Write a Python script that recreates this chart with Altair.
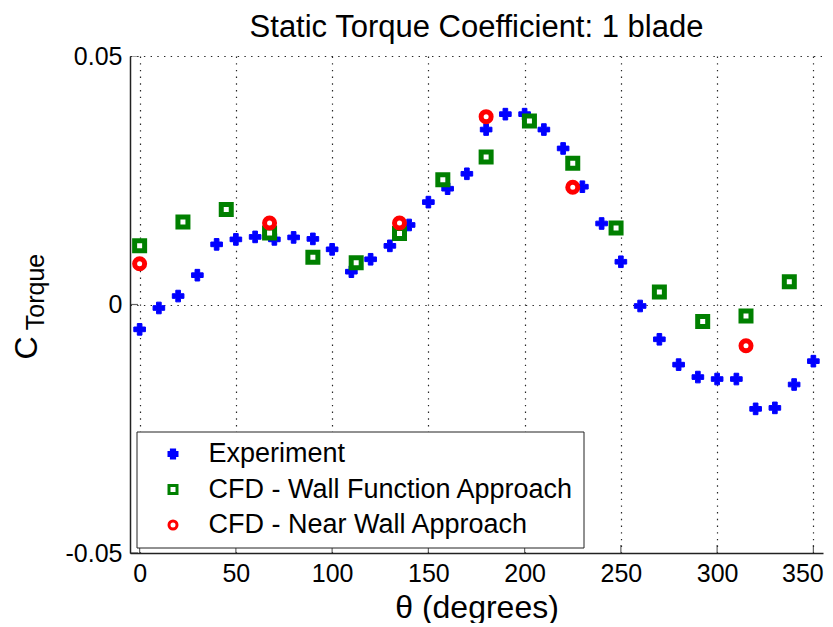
import altair as alt
import pandas as pd

# ---------------- data ----------------
series_names = ["Experiment", "CFD - Wall Function Approach", "CFD - Near Wall Approach"]

exp_theta = [0, 10, 20, 30, 40, 50, 60, 70, 80, 90,
             100, 110, 120, 130, 140, 150, 160, 170, 180, 190,
             200, 210, 220, 230, 240, 250, 260, 270, 280, 290,
             300, 310, 320, 330, 340, 350]
exp_ct = [-0.0050, -0.0007, 0.0017, 0.0059, 0.0121, 0.0131, 0.0136, 0.0131, 0.0135, 0.0132,
          0.0111, 0.0066, 0.0091, 0.0118, 0.0160, 0.0206, 0.0233, 0.0263, 0.0352, 0.0383,
          0.0383, 0.0352, 0.0314, 0.0237, 0.0163, 0.0086, -0.0003, -0.0070, -0.0121, -0.0146,
          -0.0150, -0.0150, -0.0210, -0.0208, -0.0161, -0.0114]

wf_theta = [0, 22.5, 45, 67.5, 90, 112.5, 135, 157.5, 180, 202.5, 225, 247.5, 270, 292.5, 315, 337.5]
wf_ct = [0.0118, 0.0166, 0.0191, 0.0144, 0.0095, 0.0084, 0.0143, 0.0251, 0.0297, 0.0369,
         0.0284, 0.0154, 0.0025, -0.0034, -0.0023, 0.0046]

nw_theta = [0, 67.5, 135, 180, 225, 315]
nw_ct = [0.0082, 0.0164, 0.0164, 0.0378, 0.0236, -0.0083]

x_ticks = [0, 50, 100, 150, 200, 250, 300, 350]
y_ticks = [-0.05, 0, 0.05]

# ---------------- tables ----------------
df = pd.concat([
    pd.DataFrame({"theta": exp_theta, "ct": exp_ct, "series": series_names[0]}),
    pd.DataFrame({"theta": wf_theta, "ct": wf_ct, "series": series_names[1]}),
    pd.DataFrame({"theta": nw_theta, "ct": nw_ct, "series": series_names[2]}),
], ignore_index=True)

xt_df = pd.DataFrame({"theta": x_ticks})
yt_df = pd.DataFrame({"ct": y_ticks})
one = pd.DataFrame({"a": [0]})

FONT = "Liberation Sans"

xscale = alt.Scale(domain=[-5, 355], nice=False, zero=False)
yscale = alt.Scale(domain=[-0.05, 0.05], nice=False, zero=False)

X = alt.X("theta:Q", scale=xscale,
          axis=alt.Axis(values=x_ticks, title="θ (degrees)", format="d", titlePadding=6,
                        labelOffset=alt.condition("datum.value == 350", alt.value(-11), alt.value(0))))
Y = alt.Y("ct:Q", scale=yscale,
          axis=alt.Axis(values=y_ticks, title=None, labelExpr="'' + datum.value"))

shape = alt.Shape("series:N", scale=alt.Scale(domain=series_names, range=["cross", "square", "circle"]),
                  legend=alt.Legend(title=None))
stroke = alt.Stroke("series:N", scale=alt.Scale(domain=series_names, range=["#0000ff", "#008000", "#ff0000"]),
                    legend=alt.Legend(title=None))
fill = alt.Fill("series:N", scale=alt.Scale(domain=series_names, range=["#0000ff", "#ffffff", "#ffffff"]),
                legend=alt.Legend(title=None))

base = alt.Chart(df).encode(x=X, y=Y, shape=shape, stroke=stroke, fill=fill)

exp_layer = base.transform_filter(alt.datum.series == series_names[0]).mark_point(
    size=135, strokeWidth=1, opacity=1)
wf_layer = base.transform_filter(alt.datum.series == series_names[1]).mark_point(
    size=100, strokeWidth=5, opacity=1)
nw_layer = base.transform_filter(alt.datum.series == series_names[2]).mark_point(
    size=100, strokeWidth=5, opacity=1)

# inward axis ticks
xtick_layer = alt.Chart(xt_df).mark_tick(orient="vertical", size=16, thickness=1.2,
                                         color="#222", clip=True).encode(x=X, y=alt.datum(-0.05))
ytick_layer = alt.Chart(yt_df).mark_tick(orient="horizontal", size=16, thickness=1.2,
                                         color="#222", clip=True).encode(y=Y, x=alt.datum(-5))

# y-axis title C_Torque
c_text = alt.Chart(one).mark_text(text="C", angle=270, fontSize=32, font=FONT, color="black",
                                  align="center", baseline="alphabetic").encode(
    x=alt.value(-93), y=alt.value(292))
sub_text = alt.Chart(one).mark_text(text="Torque", angle=270, fontSize=25, font=FONT, color="black",
                                    align="center", baseline="alphabetic").encode(
    x=alt.value(-86), y=alt.value(236))

chart = alt.layer(xtick_layer, ytick_layer, exp_layer, wf_layer, nw_layer, c_text, sub_text).properties(
    width=693, height=497,
    title=alt.TitleParams("Static Torque Coefficient: 1 blade", fontSize=31, font=FONT,
                          fontWeight="normal", color="black", anchor="middle", offset=0),
    padding={"left": 122, "top": 48, "right": 2, "bottom": 70},
    autosize=alt.AutoSizeParams(type="none"),
).configure_view(strokeWidth=0).configure_axis(
    labelFont=FONT, titleFont=FONT, labelFontSize=25, titleFontSize=32,
    labelColor="black", titleColor="black", titleFontWeight="normal",
    domainColor="#222", domainWidth=1.5, ticks=False,
    grid=True, gridColor="black", gridDash=[1.4, 5.3], gridWidth=1.2, gridOpacity=0.85,
    labelPadding=8,
).configure_legend(
    orient="none", legendX=6.5, legendY=375.5, padding=9,
    strokeColor="#222", fillColor="white", cornerRadius=0, strokeWidth=1,
    labelFont=FONT, labelFontSize=27, labelColor="black", labelLimit=600,
    symbolSize=64, symbolStrokeWidth=3, symbolOffset=14, labelOffset=22, rowPadding=7.5,
)

chart.save("out.html", embed_options={"renderer": "svg", "actions": False})
